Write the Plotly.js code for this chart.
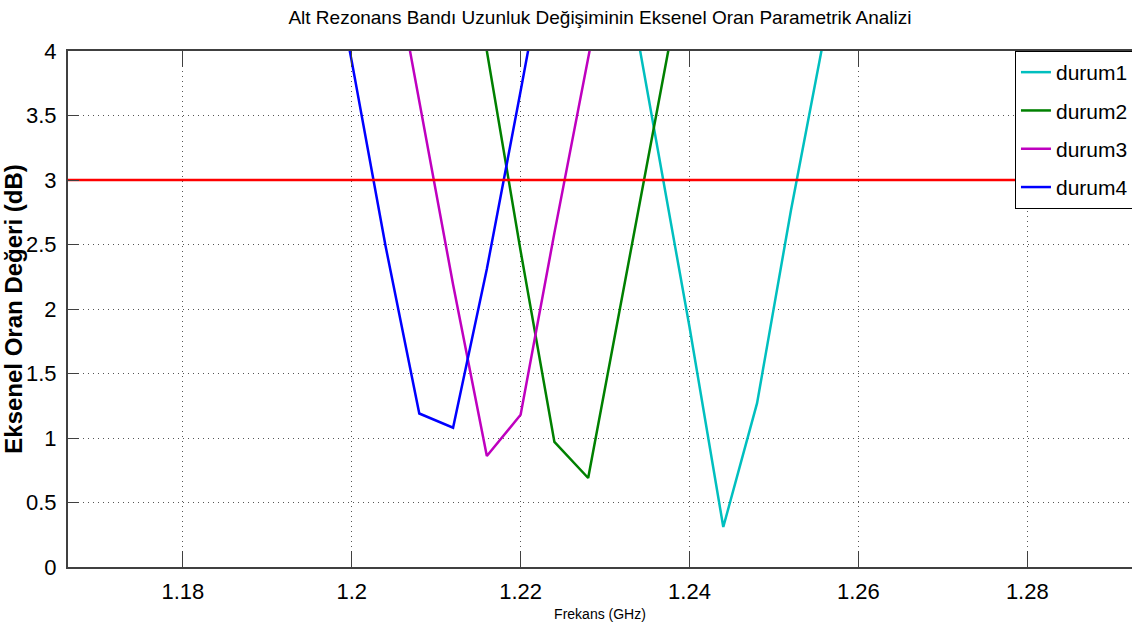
<!DOCTYPE html>
<html>
<head>
<meta charset="utf-8">
<script src="https://cdn.plot.ly/plotly-3.0.1.min.js"></script>
<style>html,body{margin:0;padding:0;background:#fff;}#chart{width:1132px;height:634px;}</style>
</head>
<body>
<div id="chart"></div>
<script>
// Frequency samples (GHz)
const freq = [1.196, 1.200, 1.204, 1.208, 1.212, 1.216, 1.220, 1.224, 1.228, 1.232, 1.236, 1.240, 1.244, 1.248, 1.252, 1.256, 1.260];
// Axial ratio (dB) for each case
const durum1 = [null, null, null, null, null, null, null, null, null, 4.79, 3.33, 1.86, 0.31, 1.27, 2.76, 4.19, 5.50];
const durum2 = [null, null, null, null, 5.40, 4.00, 2.45, 0.97, 0.69, 2.09, 3.49, 4.88, null, null, null, null, null];
const durum3 = [null, null, 5.03, 3.62, 2.19, 0.86, 1.18, 2.59, 3.99, 5.30, null, null, null, null, null, null, null];
const durum4 = [5.30, 3.92, 2.49, 1.19, 1.08, 2.31, 3.69, 5.10, null, null, null, null, null, null, null, null, null];
const seriesNames = ["durum1", "durum2", "durum3", "durum4"];
const seriesColors = ["#00BFBF", "#008000", "#BF00BF", "#0000FF"];
const thresholdX = [1.16, 1.30];
const thresholdY = [3, 3];
const xTicks = [1.18, 1.20, 1.22, 1.24, 1.26, 1.28];
const xTickText = ["1.18", "1.2", "1.22", "1.24", "1.26", "1.28"];
const yTicks = [0, 0.5, 1, 1.5, 2, 2.5, 3, 3.5, 4];
const yTickText = ["0", "0.5", "1", "1.5", "2", "2.5", "3", "3.5", "4"];

const sans = '"Liberation Sans", Arial, sans-serif';
const allSeries = [durum1, durum2, durum3, durum4];
const traces = allSeries.map((ys, i) => ({
  x: freq, y: ys, type: 'scatter', mode: 'lines', name: seriesNames[i],
  legendgroup: 'g' + i,
  line: {color: seriesColors[i], width: 2.5}, connectgaps: false, cliponaxis: true
}));
traces.push({x: thresholdX, y: thresholdY, type: 'scatter', mode: 'lines', showlegend: false,
  line: {color: '#FF0000', width: 2.5}, hoverinfo: 'skip'});

const layout = {
  width: 1132, height: 634,
  margin: {l: 68, r: 0, t: 51, b: 67, autoexpand: false},
  paper_bgcolor: '#fff', plot_bgcolor: '#fff',
  title: {text: 'Alt Rezonans Bandı Uzunluk Değişiminin Eksenel Oran Parametrik Analizi',
    font: {family: sans, size: 19, color: '#000'}, x: 0.53, xanchor: 'center', y: 0.972, yanchor: 'middle'},
  xaxis: {
    range: [1.1664, 1.2924], tickvals: xTicks, ticktext: xTickText,
    showline: true, linecolor: '#404040', linewidth: 2, mirror: 'ticks',
    ticks: 'inside', ticklen: 16, tickcolor: '#404040', tickwidth: 1,
    showgrid: true, gridcolor: '#555', gridwidth: 1, griddash: '1px,4px',
    zeroline: false, automargin: false,
    tickfont: {family: sans, size: 22, color: '#000'}, ticklabelstandoff: 4,
    title: {text: 'Frekans (GHz)', font: {family: sans, size: 14, color: '#000'}, standoff: 6}
  },
  yaxis: {
    range: [0, 4], tickvals: yTicks, ticktext: yTickText,
    showline: true, linecolor: '#404040', linewidth: 2, mirror: false,
    ticks: 'inside', ticklen: 11, tickcolor: '#404040', tickwidth: 1,
    showgrid: true, gridcolor: '#555', gridwidth: 1, griddash: '1px,4px',
    zeroline: false, automargin: false,
    tickfont: {family: sans, size: 22, color: '#000'}, ticklabelstandoff: 5,
    title: {text: '<b>Eksenel Oran Değeri (dB)</b>', font: {family: sans, size: 24, color: '#000'}, standoff: 0}
  },
  showlegend: true,
  legend: {x: 0.89, xanchor: 'left', y: 1.0, yanchor: 'top',
    bgcolor: '#fff', bordercolor: '#000', borderwidth: 1,
    font: {family: sans, size: 21, color: '#000'},
    traceorder: 'grouped', tracegroupgap: 8}
};
Plotly.newPlot('chart', traces, layout, {displayModeBar: false, staticPlot: true});
</script>
</body>
</html>
